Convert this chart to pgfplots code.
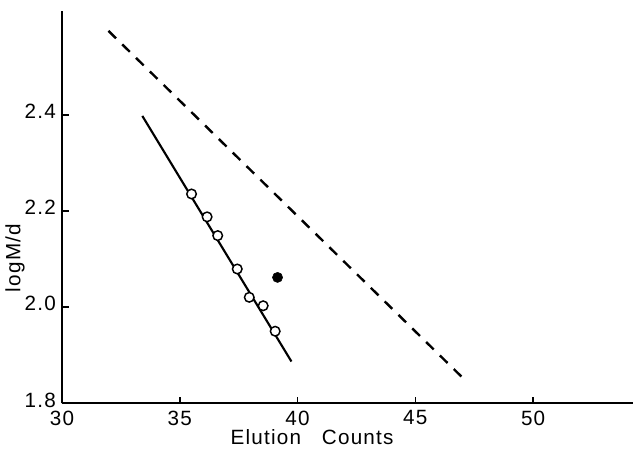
\documentclass[border=0pt]{standalone}
\usepackage{pgfplots}
\pgfplotsset{compat=1.18}
\usepackage{fontspec}
\setmainfont[LetterSpace=6]{Liberation Sans}
\begin{document}
\begin{tikzpicture}
\begin{axis}[
  scale only axis, width=428.25pt, height=294.5pt,
  xmin=30, xmax=54.24, ymin=1.8, ymax=2.617,
  axis x line=bottom, axis y line=left,
  axis line style={-, line width=1.6pt},
  xtick={30,35,40,45,50}, ytick={1.8,2.0,2.2,2.4},
  tick align=inside, major tick length=5pt,
  tick style={line width=1.2pt, black},
  /pgf/number format/assume math mode=true,
  xticklabel style={/pgf/number format/fixed, yshift=-2pt},
  yticklabel style={/pgf/number format/fixed, /pgf/number format/fixed zerofill, /pgf/number format/precision=1, yshift=2.5pt, xshift=-1pt},
  ticklabel style={font=\fontsize{15.5}{17}\selectfont},
  xlabel={Elution\quad Counts},
  xlabel style={font=\fontsize{15.5}{17}\selectfont, at={(axis description cs:0.438,0)}, anchor=center, yshift=-25.5pt},
  ylabel={logM/d},
  ylabel style={font=\fontsize{15.5}{17}\selectfont, at={(axis description cs:-0.0823,0.37)}, anchor=center},
  clip=false,
]
% dashed line
\addplot[black, line width=1.8pt, dash pattern=on 8pt off 6.5pt] coordinates {(31.97,2.575) (47.2,1.844)};
% solid fit line
\addplot[black, line width=1.6pt] coordinates {(33.41,2.398) (39.74,1.887)};
% open circles
\addplot[only marks, mark=*, mark size=3.6pt, mark options={fill=white, draw=black, line width=1.1pt}] coordinates {
(35.50,2.2356) (36.16,2.188) (36.61,2.149) (37.44,2.0795) (37.95,2.0206) (38.54,2.003) (39.05,1.950)
};
% filled circle
\addplot[only marks, mark=*, mark size=3.8pt, mark options={fill=black, draw=black}] coordinates {(39.15,2.062)};
\end{axis}
\pgfresetboundingbox
\path[use as bounding box] ([xshift=-46.5pt,yshift=-34.3pt]current axis.south west) rectangle ([yshift=8pt]current axis.north east);
\end{tikzpicture}
\end{document}
